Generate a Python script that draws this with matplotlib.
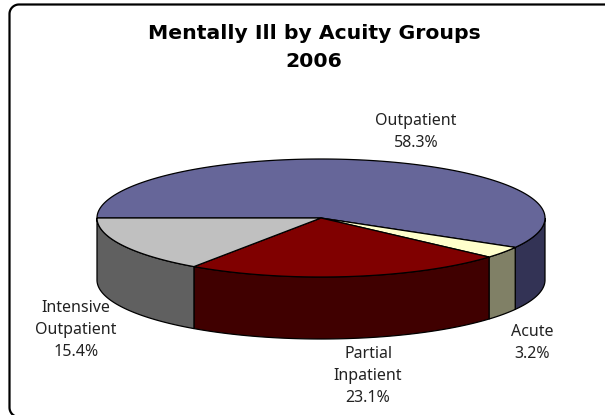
import matplotlib.pyplot as plt
import numpy as np
from matplotlib.patches import Polygon

labels = ['Outpatient\n58.3%', 'Acute\n3.2%', 'Partial\nInpatient\n23.1%', 'Intensive\nOutpatient\n15.4%']
shares = [58.3, 3.2, 23.1, 15.4]
top_colors = ['#666699', '#FFFFCC', '#800000', '#C0C0C0']
side_colors = ['#333355', '#808066', '#400000', '#606060']
label_pos = [(416, 132), (532, 343), (368, 376), (76, 330)]
title = 'Mentally Ill by Acuity Groups\n2006'

# pie centre, radii and rim depth in pixels
cx, cy = 321, 218
rx, ry = 224, 59
depth = 62


def rim(t):
    return cx + rx * np.cos(t), cy - ry * np.sin(t)


fig = plt.figure(figsize=(6.05, 4.15), dpi=100)
ax = fig.add_axes([0, 0, 1, 1])
ax.set_xlim(0, 605)
ax.set_ylim(415, 0)
ax.axis('off')

# frame: only the top and left edges fall inside the picture
left, top, bottom, r = 9.5, 4.5, 417, 9.5
arc1 = np.linspace(np.pi, np.pi / 2, 20)
arc2 = np.linspace(np.pi, 3 * np.pi / 2, 20)
frame_x = np.r_[left + r + r * np.cos(arc2)[::-1], left + r + r * np.cos(arc1), 640]
frame_y = np.r_[bottom - r - r * np.sin(arc2)[::-1], top + r - r * np.sin(arc1), top]
ax.plot(frame_x, frame_y, color='black', lw=1.6)

# slices run clockwise from the left edge of the ellipse
edges = np.pi - np.radians(np.cumsum(np.r_[0, shares]) * 3.6)

# only the front half of the rim is visible
for i in range(len(shares)):
    hi, lo = min(edges[i], 0), edges[i + 1]
    x, y = rim(np.linspace(hi, lo, 80))
    pts = np.r_[np.c_[x, y], np.c_[x[::-1], y[::-1] + depth]]
    ax.add_patch(Polygon(pts, closed=True, fc=side_colors[i], ec='black', lw=0.9))

for i in range(len(shares)):
    x, y = rim(np.linspace(edges[i], edges[i + 1], 200))
    pts = np.r_[[[cx, cy]], np.c_[x, y]]
    ax.add_patch(Polygon(pts, closed=True, fc=top_colors[i], ec='black', lw=0.9))

for text, (x, y) in zip(labels, label_pos):
    ax.text(x, y, text, ha='center', va='center', fontsize=11.5, family='Noto Sans',
            color='#222222', linespacing=1.5)

ax.text(314, 47.5, title, ha='center', va='center', fontsize=14.7,
        fontweight='bold', family='DejaVu Sans', linespacing=1.55)

fig.savefig('out.png', dpi=100)
